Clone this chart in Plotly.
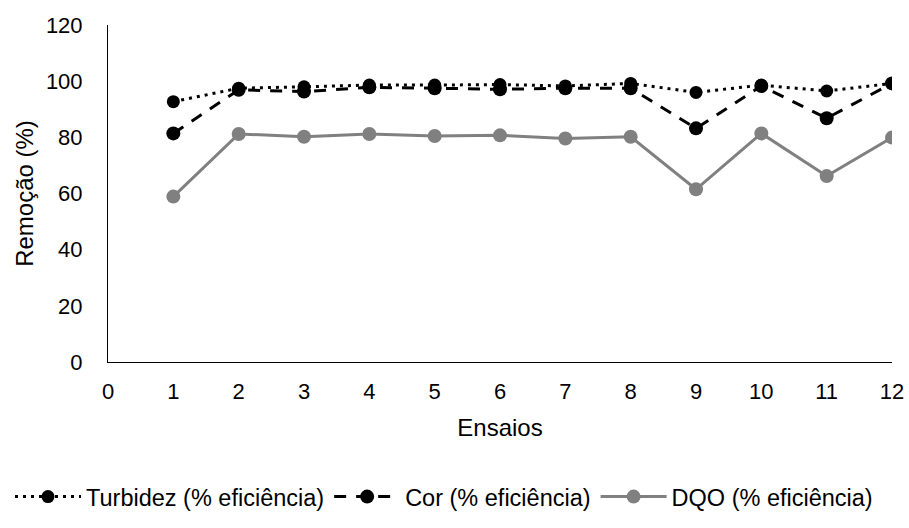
import plotly.graph_objects as go

ensaios = list(range(1, 13))
turbidez = [92.7, 97.5, 98.0, 98.6, 98.6, 98.8, 98.3, 99.2, 96.0, 98.6, 96.5, 99.2]
cor = [81.4, 96.9, 96.3, 97.8, 97.5, 97.1, 97.5, 97.5, 83.2, 98.3, 86.8, 99.2]
dqo = [58.9, 81.2, 80.2, 81.2, 80.5, 80.7, 79.6, 80.2, 61.5, 81.4, 66.2, 79.9]

font = "Liberation Sans, Arial, sans-serif"

fig = go.Figure()
fig.add_trace(go.Scatter(
    x=ensaios, y=turbidez, name="Turbidez (% eficiência)", mode="lines+markers",
    line=dict(color="black", width=3, dash="3px,5px"),
    marker=dict(symbol="circle", size=13, color="black"),
))
fig.add_trace(go.Scatter(
    x=ensaios, y=cor, name="Cor (% eficiência)", mode="lines+markers",
    line=dict(color="black", width=3, dash="12px,10px"),
    marker=dict(symbol="circle", size=14, color="black"),
))
fig.add_trace(go.Scatter(
    x=ensaios, y=dqo, name="DQO (% eficiência)", mode="lines+markers",
    line=dict(color="#808080", width=3),
    marker=dict(symbol="circle", size=14, color="#808080"),
))

fig.update_layout(
    width=909, height=528,
    margin=dict(l=108, r=17, t=25, b=166, autoexpand=False),
    paper_bgcolor="white", plot_bgcolor="white",
    font=dict(family=font, size=23, color="#000000"),
    showlegend=True,
    legend=dict(orientation="h", x=-0.125, xanchor="left",
                y=-0.40, yanchor="middle", font=dict(size=23.5),
                itemwidth=66, traceorder="normal"),
    xaxis=dict(range=[0, 12], tickmode="array", tickvals=list(range(0, 13)),
               automargin=False,
               showgrid=False, zeroline=False, showline=True,
               linecolor="black", linewidth=1, ticks="", ticklabelstandoff=10,
               tickfont=dict(size=22),
               title=dict(text="Ensaios", font=dict(size=24), standoff=15)),
    yaxis=dict(range=[0, 120], tickmode="array", tickvals=list(range(0, 121, 20)),
               automargin=False,
               showgrid=False, zeroline=False, showline=True,
               linecolor="black", linewidth=1, ticks="", ticklabelstandoff=20,
               tickfont=dict(size=22),
               title=dict(text="Remoção (%)", font=dict(size=24), standoff=5)),
)

fig.write_html("out.html")
